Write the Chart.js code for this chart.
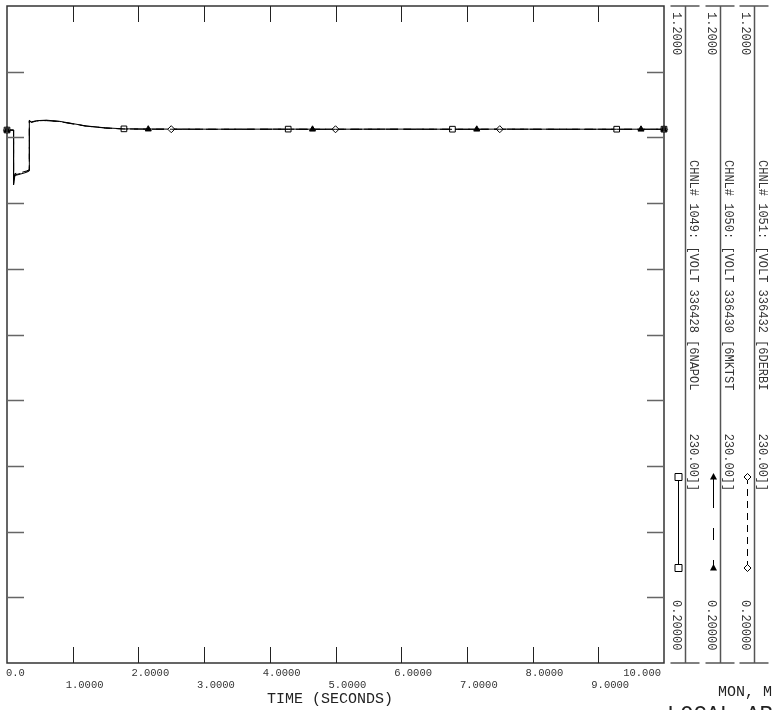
<!DOCTYPE html>
<html>
<head>
<meta charset="utf-8">
<script src="https://cdn.jsdelivr.net/npm/chart.js@4"></script>
<style>
	html, body { margin: 0; padding: 0; background: #fff; }
	canvas { display: block; }
</style>
</head>
<body>
<canvas id="plot" width="772" height="710"></canvas>
<script>
// time axis (seconds)
var times = [0, 0.1, 0.1, 0.12, 0.2, 0.3, 0.34, 0.34, 0.37, 0.45, 0.6, 0.8, 1.0, 1.2, 1.5,
	1.78, 2.15, 2.5, 3.2, 4.28, 4.65, 5.0, 5.8, 6.78, 7.15, 7.5, 8.4, 9.28, 9.65, 10.0];

// bus voltages (pu)
var voltNapol = [1.0112, 1.0112, 0.928, 0.942, 0.944, 0.947, 0.949, 1.026, 1.0235, 1.0255, 1.0262, 1.0245, 1.0210, 1.0175, 1.0145,
	1.0130, 1.0127, 1.0126, 1.0125, 1.0126, 1.0125, 1.0125, 1.0126, 1.0125, 1.0125, 1.0126, 1.0125, 1.0125, 1.0125, 1.0125];
var voltMktst = [1.0110, 1.0110, 0.934, 0.945, 0.946, 0.949, 0.951, 1.025, 1.0230, 1.0248, 1.0255, 1.0240, 1.0205, 1.0172, 1.0142,
	1.0128, 1.0125, 1.0124, 1.0123, 1.0124, 1.0123, 1.0123, 1.0124, 1.0123, 1.0123, 1.0124, 1.0123, 1.0123, 1.0123, 1.0123];
var voltDerbi = [1.0111, 1.0111, 0.931, 0.943, 0.945, 0.948, 0.950, 1.0255, 1.0232, 1.0252, 1.0258, 1.0242, 1.0208, 1.0173, 1.0143,
	1.0129, 1.0126, 1.0125, 1.0124, 1.0125, 1.0124, 1.0124, 1.0125, 1.0124, 1.0124, 1.0125, 1.0124, 1.0124, 1.0124, 1.0124];

// where the channel symbols sit on each curve
var marksNapol = [0, 1.78, 4.28, 6.78, 9.28, 10.0];
var marksMktst = [0, 2.15, 4.65, 7.15, 9.65, 10.0];
var marksDerbi = [0, 2.5, 5.0, 7.5, 10.0];

var channelLabels = [
	"CHNL# 1049: [VOLT 336428 [6NAPOL      230.00]]",
	"CHNL# 1050: [VOLT 336430 [6MKTST      230.00]]",
	"CHNL# 1051: [VOLT 336432 [6DERBI      230.00]]"
];

var xTickValues = [0, 1, 2, 3, 4, 5, 6, 7, 8, 9, 10];
var xTickLabels = ["0.0", "1.0000", "2.0000", "3.0000", "4.0000", "5.0000", "6.0000", "7.0000", "8.0000", "9.0000", "10.000"];
var yTickValues = [0.2, 0.3, 0.4, 0.5, 0.6, 0.7, 0.8, 0.9, 1.0, 1.1, 1.2];
var yTopLabel = "1.2000";
var yBottomLabel = "0.20000";

var mono = '"Liberation Mono", "DejaVu Sans Mono", monospace';

function toPoints(vals) {
	return vals.map(function (v, i) { return { x: times[i], y: v }; });
}

function markRadius(marks, r) {
	return function (ctx) {
		var t = times[ctx.dataIndex];
		return marks.indexOf(t) >= 0 && !(ctx.dataIndex > 0 && times[ctx.dataIndex - 1] === t) ? r : 0;
	};
}

function drawMark(ctx, style, x, y) {
	ctx.save();
	ctx.setLineDash([]);
	ctx.lineWidth = 1;
	ctx.strokeStyle = "#000";
	ctx.beginPath();
	if (style === "rect") {
		ctx.fillStyle = "#fff";
		ctx.rect(x - 3.5, y - 3.5, 7, 7);
		ctx.fill();
		ctx.stroke();
	} else if (style === "triangle") {
		ctx.fillStyle = "#000";
		ctx.moveTo(x, y - 4);
		ctx.lineTo(x + 3.5, y + 2.5);
		ctx.lineTo(x - 3.5, y + 2.5);
		ctx.closePath();
		ctx.fill();
	} else {
		ctx.fillStyle = "#fff";
		ctx.moveTo(x, y - 3.5);
		ctx.lineTo(x + 3.5, y);
		ctx.lineTo(x, y + 3.5);
		ctx.lineTo(x - 3.5, y);
		ctx.closePath();
		ctx.fill();
		ctx.stroke();
	}
	ctx.restore();
}

function vtext(ctx, str, x, y) {
	ctx.save();
	ctx.translate(x, y);
	ctx.rotate(Math.PI / 2);
	ctx.textAlign = "left";
	ctx.textBaseline = "middle";
	ctx.fillText(str, 0, 0);
	ctx.restore();
}

var styles = ["rect", "triangle", "rectRot"];
var dashes = [[], [31, 20, 12, 20], [7, 5]];

var pssFrame = {
	id: "pssFrame",
	beforeDraw: function (chart) {
		var ctx = chart.ctx;
		ctx.save();
		ctx.fillStyle = "#fff";
		ctx.fillRect(0, 0, chart.width, chart.height);
		ctx.restore();
	},
	afterDraw: function (chart) {
		var ctx = chart.ctx;
		var a = chart.chartArea;
		var xs = chart.scales.x;
		var ys = chart.scales.y;
		ctx.save();

		// frame
		ctx.strokeStyle = "#333";
		ctx.lineWidth = 1.5;
		ctx.beginPath();
		ctx.moveTo(a.left, a.top);
		ctx.lineTo(a.right, a.top);
		ctx.lineTo(a.right, a.bottom);
		ctx.lineTo(a.left, a.bottom);
		ctx.closePath();
		ctx.stroke();

		// inward ticks
		ctx.lineWidth = 1;
		ctx.strokeStyle = "#222";
		ctx.beginPath();
		xTickValues.forEach(function (v) {
			if (v === xs.min || v === xs.max) return;
			var px = Math.round(xs.getPixelForValue(v)) + 0.5;
			ctx.moveTo(px, a.bottom);
			ctx.lineTo(px, a.bottom - 16);
			ctx.moveTo(px, a.top);
			ctx.lineTo(px, a.top + 16);
		});
		ctx.stroke();
		ctx.strokeStyle = "#666";
		ctx.lineWidth = 1.5;
		ctx.beginPath();
		yTickValues.forEach(function (v) {
			if (v === ys.min || v === ys.max) return;
			var py = Math.round(ys.getPixelForValue(v)) + 0.5;
			ctx.moveTo(a.left, py);
			ctx.lineTo(a.left + 17, py);
			ctx.moveTo(a.right, py);
			ctx.lineTo(a.right - 17, py);
		});
		ctx.stroke();

		// x tick labels, staggered
		ctx.fillStyle = "#333";
		ctx.font = "10.5px " + mono;
		ctx.textBaseline = "middle";
		ctx.textAlign = "left";
		xTickValues.forEach(function (v, i) {
			var px = xs.getPixelForValue(v);
			var w = ctx.measureText(xTickLabels[i]).width;
			var left = Math.min(Math.max(px - 7, a.left - 1), a.right - 3 - w);
			ctx.fillText(xTickLabels[i], left, i % 2 === 0 ? a.bottom + 10 : a.bottom + 22);
		});

		ctx.font = "15px " + mono;
		ctx.fillStyle = "#222";
		ctx.fillText("TIME (SECONDS)", 267, a.bottom + 36);
		ctx.fillText("MON, MAY", 718, a.bottom + 29);
		ctx.font = "22px " + mono;
		ctx.textBaseline = "top";
		ctx.fillText("LOCAL AREA", 667, a.bottom + 41);

		// channel strips on the right
		for (var i = 0; i < 3; i++) {
			var lx = Math.round(a.right + 21 + i * 34.5) + 0.5;
			ctx.strokeStyle = "#555";
			ctx.lineWidth = 1.5;
			ctx.setLineDash([]);
			ctx.beginPath();
			ctx.moveTo(lx - 15, a.top);
			ctx.lineTo(lx + 14, a.top);
			ctx.moveTo(lx - 15, a.bottom);
			ctx.lineTo(lx + 14, a.bottom);
			ctx.moveTo(lx, a.top);
			ctx.lineTo(lx, a.bottom);
			ctx.stroke();

			ctx.fillStyle = "#333";
			ctx.font = "12px " + mono;
			vtext(ctx, yTopLabel, lx - 9, a.top + 6);
			vtext(ctx, yBottomLabel, lx - 9, a.bottom - 63);
			vtext(ctx, channelLabels[i], lx + 7.5, 160);

			// legend sample line with symbols at both ends
			var mx = lx - 7;
			ctx.strokeStyle = "#000";
			ctx.lineWidth = 1;
			ctx.setLineDash(dashes[i]);
			ctx.beginPath();
			ctx.moveTo(mx, 477);
			ctx.lineTo(mx, 568);
			ctx.stroke();
			drawMark(ctx, styles[i], mx, 477);
			drawMark(ctx, styles[i], mx, 568);
		}
		ctx.restore();
	}
};

function series(label, vals, marks, style, dash, r, order) {
	return {
		label: label,
		data: toPoints(vals),
		borderColor: "#000",
		backgroundColor: style === "triangle" ? "#000" : "#fff",
		borderWidth: 1,
		borderDash: dash,
		pointStyle: style,
		pointRadius: markRadius(marks, r),
		pointBorderWidth: 1,
		pointBorderColor: "#000",
		tension: 0,
		clip: false,
		order: order
	};
}

new Chart(document.getElementById("plot"), {
	type: "line",
	data: {
		datasets: [
			series("6NAPOL", voltNapol, marksNapol, "rect", [], 4, 3),
			series("6MKTST", voltMktst, marksMktst, "triangle", [12, 6], 3.5, 1),
			series("6DERBI", voltDerbi, marksDerbi, "rectRot", [8, 5], 3.5, 2)
		]
	},
	options: {
		responsive: false,
		animation: false,
		layout: { padding: { left: 7, top: 6, right: 108, bottom: 47 } },
		plugins: { legend: { display: false }, tooltip: { enabled: false } },
		scales: {
			x: { type: "linear", min: 0, max: 10, display: false },
			y: { type: "linear", min: 0.2, max: 1.2, display: false }
		}
	},
	plugins: [pssFrame]
});
</script>
</body>
</html>
